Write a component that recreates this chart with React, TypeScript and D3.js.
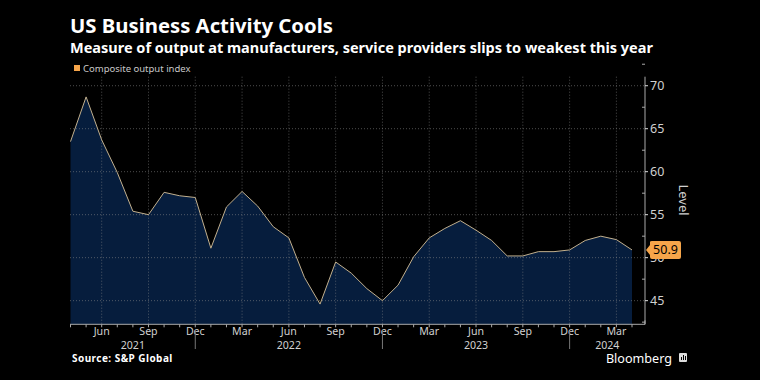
import React, { useEffect } from "react";
import * as d3 from "d3";

const months = [
  "2021-04","2021-05","2021-06","2021-07","2021-08","2021-09","2021-10","2021-11","2021-12",
  "2022-01","2022-02","2022-03","2022-04","2022-05","2022-06","2022-07","2022-08","2022-09","2022-10","2022-11","2022-12",
  "2023-01","2023-02","2023-03","2023-04","2023-05","2023-06","2023-07","2023-08","2023-09","2023-10","2023-11","2023-12",
  "2024-01","2024-02","2024-03","2024-04",
];
const composite = [
  63.5, 68.7, 63.7, 59.9, 55.4, 55.0, 57.6, 57.2, 57.0,
  51.1, 55.9, 57.7, 56.0, 53.6, 52.3, 47.7, 44.6, 49.5, 48.2, 46.4, 45.0,
  46.8, 50.1, 52.3, 53.4, 54.3, 53.2, 52.0, 50.2, 50.2, 50.7, 50.7, 50.9,
  52.0, 52.5, 52.1, 50.9,
];
const yTicks = [45, 50, 55, 60, 65, 70];
const monthNames = ["Jan","Feb","Mar","Apr","May","Jun","Jul","Aug","Sep","Oct","Nov","Dec"];
const labelMonths = [3, 6, 9, 12];
const title = "US Business Activity Cools";
const subtitle = "Measure of output at manufacturers, service providers slips to weakest this year";
const legendLabel = "Composite output index";
const source = "Source: S&P Global";

const W = 760, H = 380;
const font = "'Noto Sans', 'Open Sans', sans-serif";

export default function App() {
  useEffect(() => {
    document.body.style.margin = "0";
    document.body.style.background = "#000";
  }, []);

  const n = composite.length;
  const x = d3.scaleLinear().domain([0, 36]).range([70.5, 632]);
  const y = d3.scaleLinear().domain([42.25, 71.05]).range([324.3, 76.7]);
  const axisRight = 645;
  const axisBottom = 324.3;

  const area = d3.area<number>().x((_, i) => x(i)).y0(axisBottom).y1((d) => y(d));
  const line = d3.line<number>().x((_, i) => x(i)).y((d) => y(d));

  const parsed = months.map((m) => {
    const [yy, mm] = m.split("-").map(Number);
    return { year: yy, month: mm };
  });
  const labelIdx = parsed.map((p, i) => ({ ...p, i })).filter((p) => labelMonths.includes(p.month));
  const sepIdx = parsed.map((p, i) => ({ ...p, i })).filter((p) => p.month === 12);
  const years = Array.from(new Set(parsed.map((p) => p.year)));
  const bounds = [x(0), ...sepIdx.map((s) => x(s.i)), axisRight];

  const last = composite[n - 1];
  const ly = y(last);
  const grid = "rgba(140,140,140,0.55)";

  return (
    <div style={{ position: "absolute", left: 0, top: 0, width: W, height: H, background: "#000" }}>
      <svg width={W} height={H} style={{ display: "block", background: "#000" }} fontFamily={font}>
        <rect x={0} y={0} width={W} height={H} fill="#000" />
        <text x={70} y={32.5} fill="#fff" fontSize={20.3} fontWeight="bold">{title}</text>
        <text x={70} y={52.5} fill="#fff" fontSize={14.5} fontWeight="bold">{subtitle}</text>
        <rect x={74} y={65} width={6} height={6} fill="#f6a54a" />
        <text x={83} y={71.5} fill="#c8c8c8" fontSize={9.5}>{legendLabel}</text>

        <path d={area(composite) || ""} fill="#061d3d" />

        {/* gridlines */}
        {yTicks.map((t) => (
          <line key={"gy" + t} x1={70} x2={axisRight} y1={y(t)} y2={y(t)} stroke={grid} strokeWidth={1} strokeDasharray="1,2" />
        ))}
        {labelIdx.map((p) => (
          <line key={"gx" + p.i} x1={x(p.i)} x2={x(p.i)} y1={76.7} y2={axisBottom} stroke={grid} strokeWidth={1} strokeDasharray="1,2" />
        ))}

        <path d={line(composite) || ""} fill="none" stroke="#c2b08e" strokeWidth={1} />

        {/* y axis */}
        <line x1={axisRight} x2={axisRight} y1={76.7} y2={axisBottom} stroke="#aaa" strokeWidth={1} />
        {yTicks.map((t) => (
          <g key={"yt" + t}>
            <line x1={axisRight} x2={axisRight + 3} y1={y(t)} y2={y(t)} stroke="#ddd" />
            <text x={650} y={y(t) + 4.5} fill="#d0d0d0" fontSize={12.5}>{t}</text>
          </g>
        ))}
        {yTicks.map((t) => (
          <line key={"ym" + t} x1={axisRight - 3} x2={axisRight} y1={y(t + 2.5)} y2={y(t + 2.5)} stroke="#aaa" />
        ))}
        <line x1={axisRight - 3} x2={axisRight} y1={y(42.5)} y2={y(42.5)} stroke="#aaa" />
        <text transform={`translate(679,200) rotate(90)`} fill="#d0d0d0" fontSize={13} textAnchor="middle">Level</text>

        {/* x axis */}
        <line x1={70} x2={axisRight} y1={axisBottom} y2={axisBottom} stroke="#aaa" strokeWidth={1} />
        {d3.range(n).map((i) => (
          <line key={"xt" + i} x1={x(i)} x2={x(i)} y1={axisBottom} y2={axisBottom + 3} stroke="#aaa" />
        ))}
        <line x1={axisRight} x2={axisRight} y1={axisBottom - 4} y2={axisBottom} stroke="#aaa" />
        {labelIdx.map((p) => (
          <text key={"xl" + p.i} x={x(p.i)} y={335} fill="#d0d0d0" fontSize={10.6} textAnchor="middle">{monthNames[p.month - 1]}</text>
        ))}
        {sepIdx.map((s) => (
          <line key={"sep" + s.i} x1={x(s.i)} x2={x(s.i)} y1={331} y2={349} stroke="#777" />
        ))}
        {years.map((yr, k) => (
          <text key={"yr" + yr} x={(bounds[k] + bounds[k + 1]) / 2} y={348.5} fill="#d0d0d0" fontSize={10.6} textAnchor="middle">{yr}</text>
        ))}

        {/* last value label */}
        <path d={`M${axisRight + 1},${ly} L${axisRight + 5},${ly - 5} L${axisRight + 5},${ly - 8} Q${axisRight + 5},${ly - 9} ${axisRight + 7},${ly - 9} L${axisRight + 34},${ly - 9} Q${axisRight + 36},${ly - 9} ${axisRight + 36},${ly - 7} L${axisRight + 36},${ly + 7} Q${axisRight + 36},${ly + 9} ${axisRight + 34},${ly + 9} L${axisRight + 7},${ly + 9} Q${axisRight + 5},${ly + 9} ${axisRight + 5},${ly + 7} L${axisRight + 5},${ly + 5} Z`} fill="#f6a54a" />
        <text x={axisRight + 20.5} y={ly + 4.5} fill="#000" fontSize={12.5} textAnchor="middle">{last.toFixed(1)}</text>

        <text x={72} y={361.5} fill="#fff" fontSize={10} fontWeight="bold" letterSpacing={0.45}>{source}</text>
        <text x={672} y={363} fill="#fff" fontSize={12.6} textAnchor="end">Bloomberg</text>
        <rect x={679} y={353} width={8} height={9} rx={1} fill="#ddd" />
        <rect x={681} y={357} width={1} height={3} fill="#000" />
        <rect x={683} y={355} width={1} height={5} fill="#000" />
        <rect x={685} y={356} width={1} height={4} fill="#000" />
      </svg>
    </div>
  );
}
